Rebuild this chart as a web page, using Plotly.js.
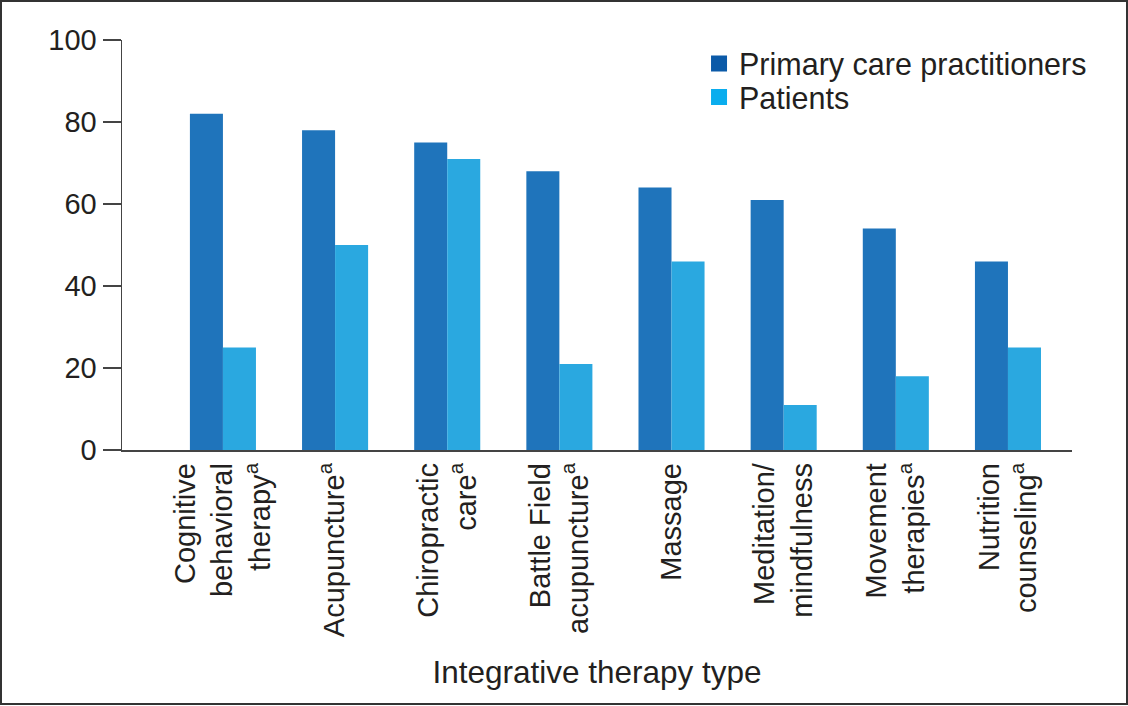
<!DOCTYPE html>
<html>
<head>
<meta charset="utf-8">
<script src="https://cdn.plot.ly/plotly-3.0.1.min.js"></script>
<style>
  html, body { margin: 0; padding: 0; background: #fff; }
  #chart { width: 1128px; height: 706px; }
</style>
</head>
<body>
<div id="chart"></div>
<script>
const categories = [
  "Cognitive<br>behavioral<br>therapy<sup>a</sup>",
  "Acupuncture<sup>a</sup>",
  "Chiropractic<br>care<sup>a</sup>",
  "Battle Field<br>acupuncture<sup>a</sup>",
  "Massage",
  "Meditation/<br>mindfulness",
  "Movement<br>therapies<sup>a</sup>",
  "Nutrition<br>counseling<sup>a</sup>"
];
const practitioners = [82, 78, 75, 68, 64, 61, 54, 46];
const patients = [25, 50, 71, 21, 46, 11, 18, 25];
const yTicks = [0, 20, 40, 60, 80, 100];
const seriesNames = ["Primary care practitioners", "Patients"];

const FONT = '"Liberation Sans", Arial, Helvetica, sans-serif';
const TXT = '#231f20';

const data = [
  { type: 'bar', x: categories, y: practitioners, name: seriesNames[0],
    marker: { color: '#1f74bb' }, showlegend: false, hoverinfo: 'y' },
  { type: 'bar', x: categories, y: patients, name: seriesNames[1],
    marker: { color: '#2aa8e0' }, showlegend: false, hoverinfo: 'y' },
  { type: 'scatter', mode: 'markers', x: [null], y: [null], name: seriesNames[0],
    marker: { symbol: 'square', size: 16, color: '#0b5aa8' }, legend: 'legend' },
  { type: 'scatter', mode: 'markers', x: [null], y: [null], name: seriesNames[1],
    marker: { symbol: 'square', size: 16, color: '#0aadee' }, legend: 'legend2' }
];

const legendCommon = {
  xanchor: 'left', yanchor: 'top', bgcolor: 'rgba(0,0,0,0)',
  font: { family: FONT, size: 30.5, color: TXT }, itemclick: false, itemdoubleclick: false
};

const layout = {
  width: 1128, height: 706,
  margin: { l: 122, r: 56, t: 40, b: 256 },
  paper_bgcolor: '#fff', plot_bgcolor: '#fff',
  font: { family: FONT, color: TXT },
  barmode: 'group', bargap: 0.411, bargroupgap: 0,
  xaxis: {
    type: 'category', range: [-0.9, 7.571],
    showline: true, linecolor: '#444', linewidth: 1.5,
    ticks: '', tickangle: -90, showgrid: false, zeroline: false,
    tickfont: { family: FONT, size: 29, color: TXT },
    title: { text: 'Integrative therapy type', font: { family: FONT, size: 31.5, color: TXT }, standoff: 24 }
  },
  yaxis: {
    range: [0, 100], tickvals: yTicks, ticktext: yTicks.map(String),
    showline: true, linecolor: '#444', linewidth: 1.5,
    ticks: 'outside', ticklen: 18, tickwidth: 1.5, tickcolor: '#444',
    showgrid: false, zeroline: false,
    tickfont: { family: FONT, size: 29, color: TXT }
  },
  legend: Object.assign({ x: 0.6074, y: 1.007 }, legendCommon),
  legend2: Object.assign({ x: 0.6074, y: 0.925 }, legendCommon),
  shapes: [{
    type: 'rect', xref: 'paper', yref: 'paper',
    x0: -121 / 950, x1: 1005 / 950, y0: -254 / 410, y1: 1 + 39 / 410,
    line: { color: '#333', width: 2 }, fillcolor: 'rgba(0,0,0,0)'
  }]
};

Plotly.newPlot('chart', data, layout, { displayModeBar: false, staticPlot: true });
</script>
</body>
</html>
